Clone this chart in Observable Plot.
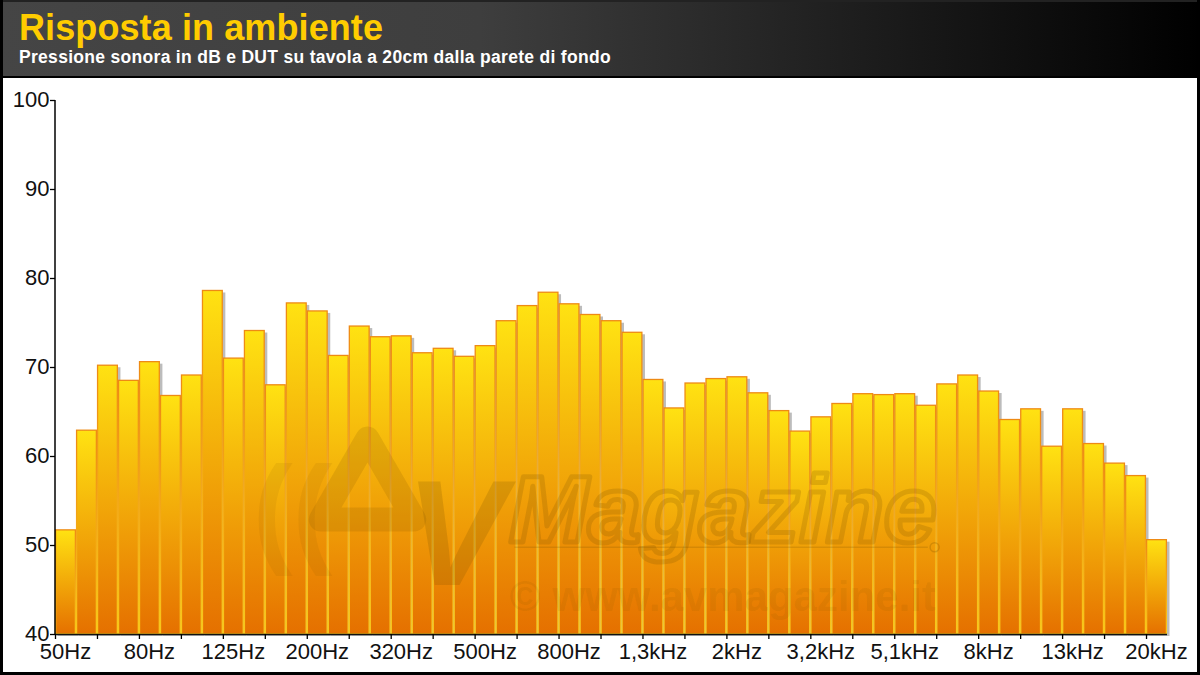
<!DOCTYPE html>
<html><head><meta charset="utf-8">
<script src="https://cdn.jsdelivr.net/npm/d3@7"></script>
<script src="https://cdn.jsdelivr.net/npm/@observablehq/plot@0.6"></script>
<style>
html,body{margin:0;padding:0;background:#fff}
#page{position:relative;width:1200px;height:675px;overflow:hidden;font-family:"Liberation Sans",Arial,sans-serif}
#head{position:absolute;left:0;top:0;width:1200px;height:78px;box-sizing:border-box;background:linear-gradient(90deg,#454545 0%,#3e3e3e 40%,#000 100%);border-top:2px solid #222;border-bottom:2px solid #000}
#head h1{position:absolute;left:19px;top:5px;margin:0;font-size:36px;line-height:42px;font-weight:700;letter-spacing:.1px;color:#FFCC00;white-space:nowrap}
#head h2{position:absolute;left:19px;top:45px;margin:0;font-size:17.5px;line-height:20px;font-weight:700;color:#fff;white-space:nowrap;letter-spacing:.3px}
#plot{position:absolute;left:0;top:78px}
#frame{position:absolute;inset:0;box-sizing:border-box;border:3px solid #000;border-top-width:0;pointer-events:none}
</style></head>
<body><div id="page">
<div id="head"><h1>Risposta in ambiente</h1><h2>Pressione sonora in dB e DUT su tavola a 20cm dalla parete di fondo</h2></div>
<div id="plot"></div><div id="frame"></div>
</div>
<script>
const bands = ["50Hz","56Hz","63Hz","71Hz","80Hz","90Hz","100Hz","112Hz","125Hz","140Hz","160Hz","180Hz","200Hz","224Hz","250Hz","280Hz","320Hz","355Hz","400Hz","450Hz","500Hz","560Hz","630Hz","710Hz","800Hz","900Hz","1kHz","1,1kHz","1,3kHz","1,4kHz","1,6kHz","1,8kHz","2kHz","2,2kHz","2,5kHz","2,8kHz","3,2kHz","3,6kHz","4kHz","4,5kHz","5,1kHz","5,6kHz","6,3kHz","7,1kHz","8kHz","9kHz","10kHz","11,2kHz","13kHz","14kHz","16kHz","18kHz","20kHz"];
const levels = [51.7,62.9,70.2,68.5,70.6,66.8,69.1,78.6,71.0,74.1,68.0,77.2,76.3,71.3,74.6,73.4,73.5,71.6,72.1,71.2,72.4,75.2,76.9,78.4,77.1,75.9,75.2,73.9,68.6,65.4,68.2,68.7,68.9,67.1,65.1,62.8,64.4,65.9,67.0,66.9,67.0,65.7,68.1,69.1,67.3,64.1,65.3,61.1,65.3,61.4,59.2,57.8,50.6];
const yTicks = [40,50,60,70,80,90,100];
const rows = bands.map((band,i)=>({band,i,level:levels[i]}));
const minorTicks = d3.range(0,bands.length,2);
const labelled = rows.filter(d=>d.i%4===0);

const defs = () => {
  const d = d3.create("svg:defs");
  const g = d.append("linearGradient").attr("id","barFill").attr("x1",0).attr("y1",0).attr("x2",0).attr("y2",1);
  g.append("stop").attr("offset","0%").attr("stop-color","#FFE212");
  g.append("stop").attr("offset","100%").attr("stop-color","#E57000");
  const s = d.append("linearGradient").attr("id","barEdge").attr("x1",0).attr("y1",0).attr("x2",0).attr("y2",1);
  s.append("stop").attr("offset","0%").attr("stop-color","#EE8A14");
  s.append("stop").attr("offset","100%").attr("stop-color","#F8C81A");
  return d.node();
};
const ink = "#7a5200";
const sans = '"Liberation Sans"';
const chart = Plot.plot({
  width:1200,height:594,marginLeft:55,marginRight:33,marginTop:22,marginBottom:38,
  style:{fontFamily:'"Liberation Sans",Arial,sans-serif',background:"transparent",color:"#111"},
  x:{domain:[0,bands.length],axis:null},
  y:{domain:[40,100],axis:null},
  marks:[
    defs,
    Plot.rectY(rows,{x1:"i",x2:d=>d.i+1,y1:40,y2:"level",fill:"#bcbcbc",dx:2.5,dy:2}),
    Plot.rectY(rows,{x1:"i",x2:d=>d.i+1,y1:40,y2:"level",insetLeft:.6,insetRight:.6,fill:"url(#barFill)",stroke:"url(#barEdge)",strokeWidth:1.3}),
    Plot.text(["(("],{x:11.3,y:53.7,fontSize:120,fontWeight:700,fill:ink,fillOpacity:.09,lineAnchor:"middle",fontFamily:sans}),
    Plot.dot([0],{x:()=>14.87,y:()=>55.96,symbol:"triangle",r:34.7,fill:"none",stroke:ink,strokeOpacity:.16,strokeWidth:24,strokeLinejoin:"round"}),
    Plot.text(["V"],{x:19.07,y:51.0,fontSize:150,fontWeight:700,fontStyle:"italic",fill:ink,fillOpacity:.2,lineAnchor:"middle",fontFamily:sans}),
    Plot.text(["Magazine"],{x:31.8,y:53.8,fontSize:95,fontWeight:700,fontStyle:"italic",fill:"none",stroke:ink,strokeOpacity:.2,strokeWidth:5,lineAnchor:"middle",fontFamily:sans}),
    Plot.ruleY([49.8],{x1:21.9,x2:41.6,stroke:ink,strokeOpacity:.2,strokeWidth:1.5}),
    Plot.dot([0],{x:()=>41.9,y:()=>49.8,r:4.5,fill:"none",stroke:ink,strokeOpacity:.25,strokeWidth:1.5}),
    Plot.text(["© www.avmagazine.it"],{x:31.8,y:44.2,fontSize:42,fontWeight:700,fill:ink,fillOpacity:.11,lineAnchor:"middle",fontFamily:sans}),
    Plot.ruleX([0],{y1:40,y2:100,stroke:"#000",strokeWidth:1.5,dx:-.5}),
    Plot.ruleY([40],{x1:0,x2:bands.length,stroke:"#111",strokeWidth:1.5}),
    Plot.axisY({ticks:yTicks,tickSize:5,tickFormat:()=>"",stroke:"#000",strokeWidth:1.3,label:null}),
    Plot.axisY({ticks:yTicks,tickSize:0,tickPadding:6,fontSize:22,fill:"#111",label:null,tickFormat:d=>String(d),marginLeft:55,dy:-.5}),
    Plot.axisX({ticks:minorTicks,tickSize:5,tickFormat:()=>"",stroke:"#000",strokeWidth:1.3,label:null}),
    Plot.text(labelled,{x:d=>d.i+.5,y:40,text:"band",dy:17,dx:-.5,fontSize:22,fill:"#111",lineAnchor:"middle"})
  ]
});
document.getElementById("plot").append(chart);
</script></body></html>
